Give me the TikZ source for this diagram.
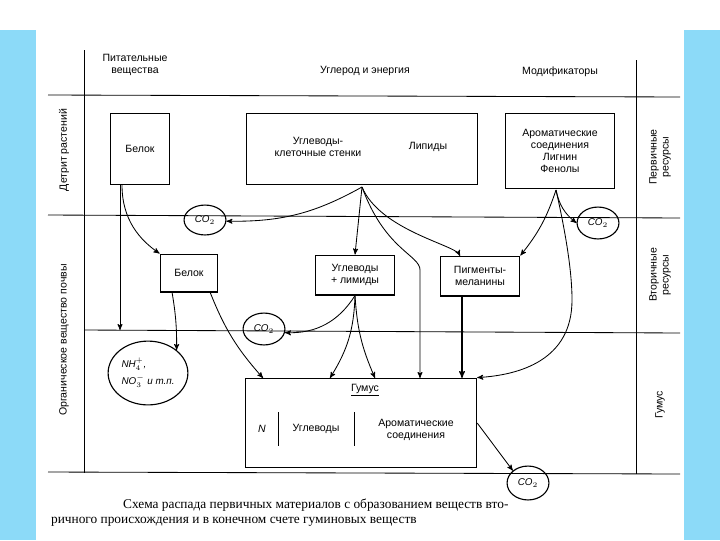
\documentclass[tikz,border=0pt]{standalone}
\usepackage{fontspec}
\setmainfont{Liberation Sans}
\newfontfamily\capfont{Liberation Serif}
\usepackage{tikz}
\usetikzlibrary{arrows}
\usetikzlibrary{shapes}
\usetikzlibrary{positioning}
\newcommand\pxu{0.709pt}

\begin{document}
\begin{tikzpicture}[x=0.025cm, y=-0.025cm, >=stealth', semithick,
	font=\fontsize{7.5}{8.5}\selectfont, align=center,
	box/.style={rectangle, draw, thick, inner sep=2pt},
	blob/.style={ellipse, draw, thick, inner sep=0pt, font=\fontsize{7}{8}\selectfont\itshape},
	side/.style={rotate=90, font=\fontsize{7.5}{8.5}\selectfont},
]
% page and cyan margins
\useasboundingbox (0,0) rectangle (720,540);
\fill[cyan!45] (0,0) rectangle (720,540);
\fill[white] (36,0) rectangle (684,540);
\fill[white] (0,0) rectangle (720,30);
% frame lines
\draw (84,50) -- (84,473);
\draw (636,60) -- (636,474);
\draw (48,95) -- (680,97);
\draw (48,215) -- (680,218);
\draw (84,330) -- (680,333);
\draw (48,472) -- (680,474);
% headers
\node (hN) at (135,65) {Питательные\\вещества};
\node (hC) at (365,71) {Углерод и энергия};
\node (hM) at (560,72) {Модификаторы};
\node[side] (lD) at (64,150) {Детрит растений};
\node[side] (lO) at (64,340) {Органическое вещество почвы};
\node[side] (rP) at (660,157) {Первичные\\ресурсы};
\node[side] (rS) at (660,275) {Вторичные\\ресурсы};
\node[side] (rH) at (660,405) {Гумус};
% primary boxes
\node[box, minimum width=60*\pxu, minimum height=72*\pxu] (B1) at (140,149) {Белок};
\node[box, minimum width=232*\pxu, minimum height=72*\pxu] (UL) at (362,149) {};
\node (UK) at (318,147) {Углеводы-\\клеточные стенки};
\node (LP) at (428,147) {Липиды};
\node[box, minimum width=110*\pxu, minimum height=75*\pxu] (AR) at (560,151) {Ароматические\\соединения\\Лигнин\\Фенолы};
% secondary boxes
\node[box, minimum width=58*\pxu, minimum height=38*\pxu] (B2) at (189,273) {Белок};
\node[box, minimum width=80*\pxu, minimum height=40*\pxu] (UG) at (355,275) {Углеводы\\+ лимиды};
\node[box, minimum width=80*\pxu, minimum height=40*\pxu] (PM) at (480,276) {Пигменты-\\меланины};
% humus
\node[box, minimum width=232*\pxu, minimum height=90*\pxu] (HU) at (361,423) {};
\node (HT) at (365,390) {\underline{Гумус}};
\node (HN) at (262,429) {\itshape N};
\node (HC) at (316,429) {Углеводы};
\node (HA) at (416,430) {Ароматические\\соединения};
\draw (278,412) -- (278,446);
\draw (354,412) -- (354,446);
% CO2 and minerals
\node[blob, minimum width=42*\pxu, minimum height=30*\pxu] (C1) at (205,220) {CO$_2$};
\node[blob, minimum width=42*\pxu, minimum height=32*\pxu] (C2) at (598,223) {CO$_2$};
\node[blob, minimum width=42*\pxu, minimum height=32*\pxu] (C3) at (264,329) {CO$_2$};
\node[blob, minimum width=42*\pxu, minimum height=34*\pxu] (C4) at (528,483) {CO$_2$};
\node[blob, minimum width=80*\pxu, minimum height=64*\pxu, align=left] (NH) at (148,373) {NH$_4^+$,\\[2pt]NO$_3^-$ и т.п.};
% connectors
\coordinate (ULs) at (362,187);
\coordinate (ARs) at (556,190);
\draw[->] (ULs) to[bend left=15] (C1);
\draw[->] (ULs) -- (UG.north);
\draw[->] (ULs) .. controls (385,250) and (420,255) .. (420,270) -- (420,378);
\draw[->] (ULs) .. controls (380,230) and (455,245) .. (460,256);
\draw[->] (122,185) .. controls (122,220) and (140,240) .. (B2.north west);
\draw[->] (120,185) -- (120,330);
\draw[->] (172,292) to[bend left=5] (NH.north east);
\draw[->] (210,292) to[bend right=10] (263,378);
\draw[->] (UG.south) to[bend left=30] (C3);
\draw[->] (UG.south) to[bend left=15] (330,378);
\draw[->] (UG.south) to[bend right=10] (375,378);
\draw[->, thick] (462,296) -- (462,378);
\draw[->] (ARs) to[bend left=10] (PM.north east);
\draw[->] (ARs) to[bend right=20] (C2.west);
\draw[->] (ARs) .. controls (565,230) and (572,270) .. (572,300) .. controls (572,360) and (520,375) .. (HU.north east);
\draw[->] (HU.east) -- (C4.north west);
% caption
\node[font=\capfont\fontsize{9.5}{11}\selectfont, anchor=west] (cap1) at (118,505) {Схема распада первичных материалов с образованием веществ вто-};
\node[font=\capfont\fontsize{9.5}{11}\selectfont, anchor=west] (cap2) at (46,522) {ричного происхождения и в конечном счете гуминовых веществ};
\end{tikzpicture}
\end{document}
